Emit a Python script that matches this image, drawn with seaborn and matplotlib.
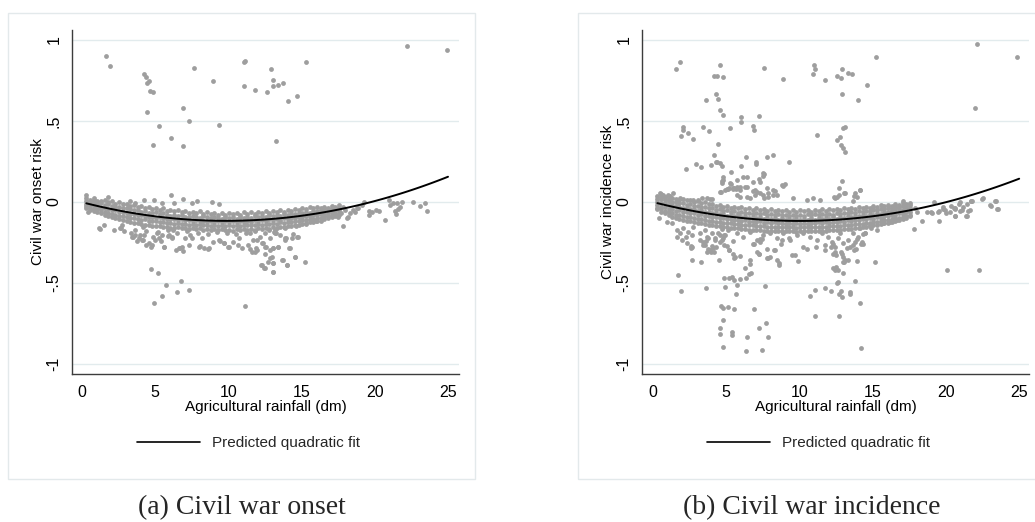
import numpy as np
import pandas as pd
import matplotlib
matplotlib.use("Agg")
import matplotlib.pyplot as plt
import seaborn as sns
from matplotlib.lines import Line2D
from matplotlib.patches import Rectangle

# ---------------- data ----------------
band_x = [0.30, 0.56, 0.80, 1.06, 1.30, 1.55, 1.81, 2.05, 2.29, 2.55,
          2.80, 3.06, 3.30, 3.54, 3.80, 4.05, 4.31, 4.55, 4.79, 5.05,
          5.30, 5.56, 5.80, 6.04, 6.30, 6.55, 6.81, 7.05, 7.29, 7.55,
          7.80, 8.06, 8.30, 8.54, 8.80, 9.05, 9.31, 9.55, 9.79, 10.05,
          10.30, 10.56, 10.80, 11.04, 11.30, 11.55, 11.81, 12.05, 12.29, 12.55,
          12.80, 13.06, 13.30, 13.54, 13.80, 14.05, 14.31, 14.55, 14.79, 15.05,
          15.30, 15.56, 15.80, 16.04, 16.30, 16.55, 16.81, 17.05, 17.29, 17.55]

# Panel (a): dense band rows
onset_band1 = [0.022, 0.015, 0.012, 0.008, 0.005, 0.010, 0.000, 0.005, -0.010, -0.002,
               -0.015, -0.010, -0.025, -0.018, -0.030, -0.025, -0.040, -0.030, -0.045, -0.035,
               -0.050, -0.040, -0.055, -0.048, -0.058, -0.050, -0.062, -0.055, -0.070, -0.060,
               -0.068, -0.058, -0.072, -0.062, -0.075, -0.065, -0.078, -0.068, -0.080, -0.070,
               -0.075, -0.066, -0.078, -0.064, -0.074, -0.062, -0.072, -0.060, -0.070, -0.058,
               -0.066, -0.055, -0.062, -0.050, -0.060, -0.048, -0.055, -0.042, -0.050, -0.038,
               -0.045, -0.032, -0.040, -0.030, -0.038, -0.030, -0.035, -0.022, -0.028, -0.018]
onset_band2 = [0.005, -0.002, 0.000, -0.010, -0.008, -0.018, -0.015, -0.025, -0.030, -0.028,
               -0.040, -0.035, -0.045, -0.052, -0.048, -0.060, -0.055, -0.065, -0.070, -0.062,
               -0.075, -0.068, -0.080, -0.085, -0.078, -0.088, -0.082, -0.090, -0.095, -0.085,
               -0.092, -0.098, -0.088, -0.095, -0.100, -0.090, -0.098, -0.102, -0.092, -0.100,
               -0.095, -0.103, -0.090, -0.098, -0.092, -0.100, -0.088, -0.095, -0.085, -0.092,
               -0.083, -0.088, -0.080, -0.085, -0.075, -0.080, -0.072, -0.076, -0.066, -0.070,
               -0.060, -0.065, -0.055, -0.058, -0.050, -0.052, -0.044, -0.046, -0.038, -0.035]
onset_band3 = [-0.012, -0.020, -0.025, -0.028, -0.035, -0.040, -0.045, -0.050, -0.052, -0.060,
               -0.062, -0.070, -0.072, -0.075, -0.080, -0.082, -0.088, -0.090, -0.092, -0.098,
               -0.095, -0.100, -0.105, -0.102, -0.108, -0.110, -0.106, -0.114, -0.110, -0.118,
               -0.114, -0.120, -0.115, -0.122, -0.117, -0.124, -0.119, -0.125, -0.120, -0.126,
               -0.118, -0.124, -0.117, -0.122, -0.115, -0.121, -0.114, -0.119, -0.112, -0.117,
               -0.108, -0.114, -0.105, -0.110, -0.100, -0.106, -0.097, -0.100, -0.090, -0.094,
               -0.084, -0.088, -0.078, -0.080, -0.072, -0.074, -0.066, -0.062, -0.058, -0.052]
onset_band4 = [-0.025, -0.035, -0.042, -0.045, -0.052, -0.060, -0.065, -0.072, -0.078, -0.085,
               -0.088, -0.095, -0.100, -0.098, -0.105, -0.110, -0.108, -0.115, -0.120, -0.118,
               -0.125, -0.122, -0.130, -0.128, -0.133, -0.130, -0.136, -0.134, -0.140, -0.135,
               -0.142, -0.138, -0.144, -0.140, -0.146, -0.142, -0.148, -0.143, -0.150, -0.144,
               -0.148, -0.142, -0.147, -0.140, -0.145, -0.139, -0.143, -0.137, -0.140, -0.134,
               -0.138, -0.130, -0.134, -0.126, -0.130, -0.122, -0.125, -0.116, -0.118, -0.110,
               -0.112, -0.104, -0.105, -0.096, -0.098, -0.088, -0.085, -0.078, -0.074, -0.066]
onset_band5 = [-0.038, -0.048, -0.055, -0.062, -0.070, -0.082, -0.088, -0.095, -0.100, -0.108,
               -0.112, -0.118, -0.125, -0.128, -0.132, -0.136, -0.140, -0.142, -0.146, -0.150,
               -0.148, -0.155, -0.152, -0.158, -0.160, -0.156, -0.162, -0.158, -0.165, -0.160,
               -0.168, -0.163, -0.170, -0.165, -0.172, -0.166, -0.174, -0.168, -0.175, -0.170,
               -0.176, -0.168, -0.174, -0.166, -0.172, -0.165, -0.170, -0.163, -0.168, -0.160,
               -0.165, -0.156, -0.160, -0.152, -0.155, -0.146, -0.150, -0.140, -0.142, -0.134,
               -0.135, -0.126, -0.125, -0.116, -0.115, -0.105, -0.100, -0.092, -0.088, -0.078]

# Panel (a): high outliers and points just above the band
onset_top_x = [1.64, 1.91, 4.23, 4.37, 4.60, 4.46, 4.64, 4.83, 4.46, 5.28,
               4.83, 6.06, 6.92, 7.29, 6.88, 7.65, 8.97, 9.34, 11.13, 11.06,
               11.04, 11.84, 12.66, 12.91, 13.02, 13.02, 13.39, 13.71, 14.09, 14.66,
               13.25, 15.30, 22.20, 24.95,
               0.27, 0.80, 1.75, 3.30, 4.21, 4.90, 6.08, 6.90, 7.86, 8.88,
               7.51, 6.26, 5.46, 3.64, 9.34]
onset_top_y = [0.903, 0.841, 0.790, 0.774, 0.747, 0.737, 0.687, 0.679, 0.557, 0.471,
               0.352, 0.397, 0.582, 0.500, 0.344, 0.827, 0.745, 0.477, 0.868, 0.862,
               0.716, 0.691, 0.679, 0.821, 0.753, 0.716, 0.720, 0.735, 0.625, 0.654,
               0.376, 0.864, 0.961, 0.936,
               0.041, 0.027, 0.031, 0.006, 0.012, 0.012, 0.041, 0.020, 0.006, -0.002,
               -0.008, -0.008, -0.008, -0.008, -0.010]

# Panel (a): points below the band
onset_low_x = [4.74, 5.19, 5.74, 6.74, 4.90, 5.46, 6.47, 7.33, 11.11,
               1.23, 0.43, 2.64, 3.34, 3.50, 3.73, 3.96, 4.19, 4.37, 4.55,
               4.71, 4.87, 5.10, 5.39, 5.62, 5.89, 6.12, 6.39, 6.69, 6.92,
               7.33, 7.49, 8.05, 8.33, 8.62, 8.96, 9.42, 9.69, 9.97, 10.33,
               10.69, 4.19, 6.23,
               11.47, 11.70, 11.92, 11.51, 11.81, 12.15, 12.38, 12.49, 12.60, 12.83,
               12.95, 13.06, 13.17, 13.40, 12.26, 12.49, 13.06, 13.06, 13.63, 13.97,
               14.15, 14.54, 14.70, 15.22, 13.86, 14.43, 13.52, 12.76, 11.35,
               1.14, 1.48, 2.62, 2.73, 3.42, 3.64, 3.87, 4.10, 4.21, 4.78,
               5.01, 5.28, 5.58, 5.46, 5.92, 6.15, 6.60, 6.83, 7.06, 7.40,
               7.97, 8.20, 8.65, 9.34, 9.68, 10.02, 10.70, 10.93, 11.61, 11.95,
               12.30, 12.41, 12.70, 12.82, 12.52, 12.30, 11.95, 12.82,
               14.78, 14.32, 13.93, 13.87, 13.41, 13.07, 14.21, 14.55, 13.75, 13.98,
               13.07, 13.07, 13.25, 13.12,
               2.20, 2.90, 3.60, 4.40, 5.20, 5.90, 6.50, 7.20, 7.90, 8.60,
               9.20, 9.90, 10.50, 11.20, 11.80, 12.50, 13.20, 13.90, 14.60, 15.30,
               16.00]
onset_low_y = [-0.414, -0.438, -0.514, -0.490, -0.626, -0.582, -0.553, -0.543, -0.640,
               -0.169, -0.060, -0.158, -0.193, -0.218, -0.239, -0.204, -0.235, -0.265, -0.255,
               -0.276, -0.218, -0.193, -0.239, -0.276, -0.210, -0.224, -0.296, -0.286, -0.300,
               -0.265, -0.220, -0.272, -0.284, -0.288, -0.249, -0.239, -0.255, -0.276, -0.245,
               -0.265, -0.152, -0.173,
               -0.193, -0.235, -0.286, -0.292, -0.307, -0.218, -0.255, -0.321, -0.276, -0.296,
               -0.337, -0.286, -0.193, -0.276, -0.389, -0.409, -0.374, -0.430, -0.358, -0.389,
               -0.286, -0.337, -0.214, -0.370, -0.224, -0.198, -0.204, -0.173, -0.265,
               -0.162, -0.142, -0.162, -0.142, -0.214, -0.204, -0.224, -0.235, -0.204, -0.265,
               -0.235, -0.224, -0.276, -0.204, -0.204, -0.214, -0.286, -0.276, -0.224, -0.204,
               -0.276, -0.224, -0.286, -0.235, -0.255, -0.276, -0.224, -0.286, -0.307, -0.296,
               -0.389, -0.409, -0.368, -0.348, -0.276, -0.255, -0.235, -0.224,
               -0.214, -0.224, -0.224, -0.235, -0.276, -0.286, -0.286, -0.337, -0.358, -0.389,
               -0.378, -0.434, -0.193, -0.183,
               -0.170, -0.180, -0.175, -0.180, -0.185, -0.170, -0.190, -0.180, -0.190, -0.200,
               -0.185, -0.190, -0.200, -0.190, -0.180, -0.190, -0.170, -0.160, -0.150, -0.130,
               -0.120]

# Panel (a): sparse points at high rainfall
onset_right_x = [19.28, 19.63, 19.80, 20.08, 20.31, 19.63, 20.70, 20.99, 21.04, 21.27,
                 21.50, 21.60, 21.84, 21.72, 21.45, 21.38, 22.58, 23.09, 23.43, 23.59,
                 18.87, 19.10, 18.31, 18.19, 17.85, 18.08, 17.50, 18.53, 18.76, 18.65,
                 17.80, 17.95, 17.70]
onset_right_y = [-0.002, -0.056, -0.064, -0.047, -0.056, -0.080, -0.111, 0.012, -0.019, -0.008,
                 -0.008, -0.043, -0.002, -0.029, -0.076, -0.056, -0.002, -0.023, -0.008, -0.056,
                 -0.039, -0.019, -0.070, -0.091, -0.146, -0.101, -0.091, -0.049, -0.035, -0.060,
                 -0.030, -0.050, -0.070]

# Panel (b): dense band rows
incid_band1 = [0.040, 0.030, 0.028, 0.020, 0.022, 0.020, 0.015, 0.020, 0.010, 0.012,
               0.000, 0.005, -0.008, 0.000, -0.015, -0.010, -0.022, -0.018, -0.030, -0.025,
               -0.035, -0.028, -0.040, -0.032, -0.045, -0.038, -0.048, -0.040, -0.050, -0.042,
               -0.055, -0.045, -0.056, -0.048, -0.058, -0.050, -0.060, -0.052, -0.060, -0.050,
               -0.058, -0.050, -0.060, -0.048, -0.058, -0.046, -0.055, -0.045, -0.052, -0.042,
               -0.050, -0.040, -0.045, -0.036, -0.042, -0.032, -0.040, -0.028, -0.035, -0.024,
               -0.030, -0.020, -0.026, -0.018, -0.022, -0.012, -0.020, -0.008, -0.012, -0.005]
incid_band2 = [0.020, 0.018, 0.010, 0.008, 0.000, 0.002, -0.008, -0.005, -0.018, -0.015,
               -0.025, -0.022, -0.032, -0.030, -0.040, -0.038, -0.048, -0.045, -0.055, -0.050,
               -0.060, -0.055, -0.066, -0.060, -0.070, -0.065, -0.074, -0.068, -0.076, -0.070,
               -0.080, -0.074, -0.082, -0.076, -0.083, -0.078, -0.084, -0.079, -0.085, -0.078,
               -0.084, -0.077, -0.083, -0.076, -0.082, -0.074, -0.080, -0.072, -0.078, -0.070,
               -0.075, -0.066, -0.070, -0.062, -0.066, -0.058, -0.062, -0.053, -0.056, -0.048,
               -0.050, -0.042, -0.045, -0.036, -0.038, -0.030, -0.032, -0.025, -0.024, -0.018]
incid_band3 = [0.002, -0.008, -0.006, -0.016, -0.018, -0.026, -0.028, -0.036, -0.038, -0.046,
               -0.045, -0.055, -0.052, -0.063, -0.060, -0.070, -0.067, -0.076, -0.073, -0.084,
               -0.079, -0.089, -0.083, -0.094, -0.087, -0.098, -0.092, -0.101, -0.095, -0.104,
               -0.097, -0.107, -0.099, -0.109, -0.101, -0.110, -0.102, -0.111, -0.102, -0.112,
               -0.102, -0.110, -0.101, -0.109, -0.100, -0.108, -0.098, -0.104, -0.095, -0.102,
               -0.092, -0.098, -0.088, -0.094, -0.084, -0.089, -0.079, -0.084, -0.073, -0.079,
               -0.067, -0.072, -0.060, -0.064, -0.053, -0.056, -0.045, -0.049, -0.038, -0.040]
incid_band4 = [-0.020, -0.030, -0.032, -0.042, -0.042, -0.053, -0.052, -0.063, -0.061, -0.071,
               -0.069, -0.079, -0.077, -0.087, -0.085, -0.093, -0.092, -0.101, -0.097, -0.107,
               -0.104, -0.113, -0.109, -0.117, -0.113, -0.121, -0.117, -0.125, -0.120, -0.128,
               -0.123, -0.130, -0.125, -0.132, -0.127, -0.133, -0.128, -0.134, -0.129, -0.134,
               -0.128, -0.133, -0.127, -0.132, -0.126, -0.131, -0.124, -0.128, -0.121, -0.126,
               -0.118, -0.122, -0.114, -0.120, -0.110, -0.113, -0.105, -0.108, -0.099, -0.102,
               -0.093, -0.096, -0.086, -0.089, -0.079, -0.081, -0.071, -0.073, -0.062, -0.064]
incid_band5 = [-0.035, -0.045, -0.056, -0.062, -0.068, -0.078, -0.080, -0.088, -0.092, -0.095,
               -0.100, -0.102, -0.108, -0.110, -0.115, -0.116, -0.122, -0.124, -0.128, -0.130,
               -0.132, -0.136, -0.136, -0.140, -0.142, -0.144, -0.145, -0.148, -0.148, -0.150,
               -0.152, -0.153, -0.152, -0.155, -0.156, -0.154, -0.157, -0.156, -0.158, -0.155,
               -0.157, -0.155, -0.156, -0.153, -0.155, -0.152, -0.153, -0.150, -0.150, -0.148,
               -0.147, -0.144, -0.143, -0.140, -0.138, -0.135, -0.134, -0.130, -0.128, -0.124,
               -0.121, -0.118, -0.114, -0.110, -0.106, -0.100, -0.098, -0.092, -0.088, -0.080]
incid_band6 = [-0.045, -0.060, -0.070, -0.080, -0.090, -0.100, -0.105, -0.110, -0.118, -0.120,
               -0.125, -0.128, -0.132, -0.135, -0.140, -0.142, -0.146, -0.150, -0.152, -0.155,
               -0.158, -0.160, -0.162, -0.165, -0.166, -0.170, -0.170, -0.173, -0.172, -0.176,
               -0.176, -0.178, -0.177, -0.180, -0.180, -0.181, -0.182, -0.180, -0.183, -0.180,
               -0.182, -0.180, -0.181, -0.178, -0.180, -0.177, -0.178, -0.175, -0.175, -0.172,
               -0.172, -0.168, -0.168, -0.164, -0.163, -0.158, -0.157, -0.152, -0.150, -0.145,
               -0.142, -0.138, -0.132, -0.128, -0.122, -0.115, -0.110, -0.102, -0.096, -0.088]

# Panel (b): high outliers
incid_top_x = [1.57, 1.87, 4.60, 4.19, 4.37, 4.76, 4.32, 4.44, 3.64, 4.60,
               4.78, 5.98, 5.98, 7.21, 6.85, 6.89, 5.23, 3.39, 3.80, 2.03,
               2.07, 1.93, 2.41, 2.75, 4.41, 7.58, 8.90, 10.99, 11.06, 10.94,
               11.76, 12.54, 12.83, 12.90, 13.31, 13.61, 12.92, 13.99, 14.58, 15.22,
               22.12, 22.00, 24.87, 11.22, 12.56, 12.79, 12.83, 12.95, 13.10, 12.99,
               13.10, 12.92]
incid_top_y = [0.821, 0.864, 0.844, 0.776, 0.776, 0.772, 0.667, 0.638, 0.630, 0.568,
               0.537, 0.527, 0.494, 0.533, 0.471, 0.442, 0.459, 0.463, 0.438, 0.465,
               0.444, 0.409, 0.428, 0.389, 0.356, 0.829, 0.757, 0.848, 0.819, 0.790,
               0.753, 0.778, 0.763, 0.823, 0.796, 0.790, 0.667, 0.630, 0.720, 0.897,
               0.973, 0.580, 0.897, 0.414, 0.381, 0.403, 0.354, 0.335, 0.311, 0.459,
               0.461, 0.130]

# Panel (b): points between the band and 0.3
incid_mid_x = [4.17, 4.30, 4.57, 4.73, 2.23, 2.94, 3.30, 3.98, 5.35, 5.98,
               6.33, 7.03, 7.05, 7.78, 8.21, 9.26, 7.53, 7.60, 8.78, 9.01,
               4.80, 4.73, 5.26, 5.67, 7.30, 6.39, 6.85, 7.08, 7.76, 7.87,
               8.35, 5.71, 4.67, 5.05, 5.51, 12.72, 13.06, 14.15, 13.70, 12.36,
               3.66, 3.91, 7.49, 7.26, 6.85, 6.12, 6.30, 5.30, 5.21, 5.48,
               5.94, 4.80, 4.71, 4.39, 8.90, 8.21, 7.87, 7.58, 7.30, 6.96,
               6.39, 6.44, 6.62, 5.94, 5.71, 12.54, 12.67, 0.52, 0.82, 1.16,
               1.84, 4.57, 4.91, 5.14, 5.48, 5.94, 5.71, 6.96, 7.53, 8.21,
               8.44, 3.09, 3.32, 4.00, 0.70, 0.48, 12.42, 9.58, 10.49, 10.94,
               11.40, 14.13, 13.79, 13.11, 13.90, 13.63, 1.05, 1.39, 2.75]
incid_mid_y = [0.288, 0.249, 0.243, 0.220, 0.204, 0.235, 0.218, 0.228, 0.187, 0.224,
               0.278, 0.245, 0.237, 0.278, 0.288, 0.249, 0.177, 0.171, 0.107, 0.109,
               0.134, 0.117, 0.115, 0.078, 0.126, 0.156, 0.070, 0.064, 0.084, 0.029,
               0.066, 0.136, 0.064, 0.078, 0.086, 0.084, 0.053, 0.072, 0.037, 0.029,
               0.027, 0.016, 0.160, 0.140, 0.125, 0.156, 0.095, 0.111, 0.085, 0.078,
               0.091, 0.156, 0.132, 0.249, 0.099, 0.074, 0.053, 0.027, 0.053, 0.074,
               0.033, 0.095, 0.023, 0.033, 0.043, 0.033, 0.043, 0.049, 0.033, 0.039,
               0.027, 0.064, 0.074, 0.080, 0.084, 0.074, 0.095, 0.043, 0.043, 0.043,
               0.043, 0.012, 0.022, 0.018, 0.043, 0.053, 0.022, 0.022, 0.012, 0.022,
               0.012, 0.074, 0.053, 0.053, 0.033, 0.006, 0.043, 0.053, 0.012]

# Panel (b): points below the band
incid_low_x = [1.68, 1.91, 2.66, 2.62, 2.59, 3.28, 3.60, 3.39, 3.60, 3.75,
               3.96, 4.30, 4.19, 4.48, 4.57, 4.71, 4.55, 4.87, 4.85, 5.17,
               5.48, 5.57, 4.82, 5.21, 5.41, 4.91, 5.71, 5.67, 5.53, 5.94,
               6.35, 6.53, 6.69, 6.28, 6.60, 5.55, 4.64, 4.78, 5.10, 5.55,
               6.89, 4.60, 4.60, 4.76, 5.39, 5.39, 4.76, 6.39, 6.35, 7.26,
               7.71, 7.85, 7.42, 7.67, 7.21, 7.76, 7.99, 8.58, 6.89, 7.33,
               7.44, 7.85, 8.26, 8.76, 8.78, 9.31, 9.47, 9.72, 9.90, 10.22,
               10.49, 10.72, 11.08, 11.04, 11.76, 12.15, 12.26, 12.40, 12.58, 12.83,
               12.72, 12.88, 12.72, 12.97, 12.99, 12.81, 12.95, 13.13, 13.47, 13.47,
               13.77, 14.15, 14.20, 13.31, 12.26, 15.15, 13.84, 13.95, 14.20, 14.36,
               20.05, 22.28,
               2.64, 3.66, 3.89, 4.12, 3.44, 3.78, 4.23, 3.55, 4.00, 4.80,
               5.07, 5.21, 5.48, 5.94, 6.62, 7.08, 7.24, 7.76, 8.33, 6.85,
               7.31, 8.62, 8.44, 12.50, 12.60, 12.40, 12.50, 11.72, 12.18, 12.30,
               11.15, 13.04, 13.90, 12.88, 13.72, 14.31, 14.13, 13.79, 13.45, 13.22,
               14.88, 14.47, 12.63,
               1.62, 1.84, 2.07, 2.25, 2.41, 2.64, 2.75, 1.96, 2.30, 1.62,
               1.27, 0.93, 0.39, 3.21, 3.55, 3.71, 4.00, 4.23, 4.46, 4.69,
               4.92, 5.14, 3.21, 5.71, 6.17, 6.62, 7.08, 7.53, 7.99, 8.44,
               8.90, 9.35, 9.81, 10.26, 10.72, 11.17, 11.51, 11.74, 11.97, 12.20,
               12.42, 12.65, 12.99, 13.33, 13.68, 14.02, 14.25, 14.47, 13.68, 12.76,
               14.81, 15.27, 15.72, 16.18, 16.63]
incid_low_y = [-0.453, -0.547, -0.356, -0.286, -0.270, -0.370, -0.529, -0.265, -0.241, -0.292,
               -0.311, -0.280, -0.311, -0.360, -0.204, -0.169, -0.249, -0.206, -0.265, -0.298,
               -0.239, -0.342, -0.469, -0.467, -0.465, -0.527, -0.512, -0.570, -0.481, -0.475,
               -0.467, -0.447, -0.436, -0.409, -0.358, -0.344, -0.642, -0.656, -0.650, -0.663,
               -0.658, -0.780, -0.817, -0.730, -0.800, -0.821, -0.893, -0.831, -0.918, -0.778,
               -0.749, -0.835, -0.912, -0.519, -0.321, -0.344, -0.340, -0.387, -0.259, -0.249,
               -0.230, -0.348, -0.296, -0.259, -0.232, -0.222, -0.329, -0.329, -0.362, -0.280,
               -0.292, -0.580, -0.545, -0.702, -0.531, -0.547, -0.405, -0.422, -0.498, -0.549,
               -0.570, -0.584, -0.704, -0.440, -0.372, -0.311, -0.337, -0.358, -0.553, -0.568,
               -0.488, -0.621, -0.899, -0.360, -0.319, -0.370, -0.288, -0.228, -0.257, -0.261,
               -0.420, -0.420,
               -0.276, -0.307, -0.296, -0.286, -0.245, -0.225, -0.235, -0.266, -0.270, -0.225,
               -0.270, -0.296, -0.323, -0.331, -0.382, -0.308, -0.323, -0.288, -0.298, -0.257,
               -0.226, -0.378, -0.358, -0.399, -0.419, -0.307, -0.327, -0.296, -0.276, -0.257,
               -0.276, -0.368, -0.364, -0.323, -0.296, -0.200, -0.162, -0.245, -0.276, -0.286,
               -0.158, -0.193, -0.492,
               -0.173, -0.193, -0.163, -0.214, -0.183, -0.204, -0.152, -0.235, -0.255, -0.214,
               -0.132, -0.121, -0.101, -0.193, -0.173, -0.214, -0.193, -0.224, -0.193, -0.235,
               -0.204, -0.173, -0.235, -0.193, -0.214, -0.183, -0.235, -0.204, -0.193, -0.224,
               -0.193, -0.235, -0.204, -0.193, -0.214, -0.235, -0.193, -0.265, -0.214, -0.245,
               -0.276, -0.224, -0.255, -0.235, -0.265, -0.214, -0.245, -0.193, -0.193, -0.193,
               -0.142, -0.173, -0.132, -0.121, -0.111]

# Panel (b): sparse points at high rainfall
incid_right_x = [17.79, 18.34, 19.54, 21.41, 20.64, 20.27, 21.52, 21.77, 22.46, 23.05,
                 23.39, 23.53, 19.20, 18.73, 18.98, 19.50, 19.77, 19.93, 20.34, 20.59,
                 20.91, 21.18, 21.71, 21.09, 20.52, 17.09, 15.61, 15.04, 16.29, 16.52,
                 19.02, 19.48, 19.82, 20.00, 20.61, 20.61, 20.96, 20.96, 21.41, 21.37,
                 21.64, 21.69, 22.50, 23.00, 23.34, 23.46, 18.00, 17.90]
incid_right_y = [-0.169, -0.119, -0.119, -0.086, -0.086, -0.062, -0.056, 0.004, 0.021, -0.023,
                 0.004, -0.041, 0.000, -0.064, -0.062, -0.053, -0.033, -0.051, -0.023, -0.037,
                 -0.012, -0.029, 0.006, -0.049, -0.039, 0.006, -0.023, -0.043, -0.049, -0.039,
                 -0.070, -0.060, -0.043, -0.070, -0.043, -0.085, -0.056, -0.002, -0.014, -0.085,
                 -0.049, 0.006, 0.023, -0.019, 0.006, -0.043, -0.060, -0.040]

# Predicted quadratic fit
fit_x = [0.3, 2, 4, 6, 8, 10, 12, 14, 16, 18, 20, 22, 24, 25]
onset_fit = [-0.008, -0.043, -0.076, -0.099, -0.112, -0.116, -0.111, -0.096, -0.071,
             -0.038, 0.006, 0.059, 0.121, 0.156]
incid_fit = [-0.007, -0.042, -0.075, -0.098, -0.112, -0.117, -0.112, -0.099, -0.075,
             -0.043, -0.001, 0.050, 0.110, 0.144]

y_ticks = [-1, -0.5, 0, 0.5, 1]
y_tick_labels = ["-1", "-.5", "0", ".5", "1"]
x_ticks = [0, 5, 10, 15, 20, 25]
x_label = "Agricultural rainfall (dm)"
y_labels = ["Civil war onset risk", "Civil war incidence risk"]
captions = ["(a) Civil war onset", "(b) Civil war incidence"]
legend_label = "Predicted quadratic fit"


def frame(parts):
    xs, ys = [], []
    for px, py in parts:
        assert len(px) == len(py), (len(px), len(py))
        xs += list(px)
        ys += list(py)
    return pd.DataFrame({"rain": xs, "risk": ys})


onset_df = frame([(band_x, onset_band1), (band_x, onset_band2), (band_x, onset_band3),
                  (band_x, onset_band4), (band_x, onset_band5),
                  (onset_top_x, onset_top_y), (onset_low_x, onset_low_y),
                  (onset_right_x, onset_right_y)])
incid_df = frame([(band_x, incid_band1), (band_x, incid_band2), (band_x, incid_band3),
                  (band_x, incid_band4), (band_x, incid_band5), (band_x, incid_band6),
                  (incid_top_x, incid_top_y), (incid_mid_x, incid_mid_y),
                  (incid_low_x, incid_low_y), (incid_right_x, incid_right_y)])

# ---------------- drawing ----------------
sns.set_theme(style="white")
plt.rcParams['font.family'] = ['Liberation Sans', 'DejaVu Sans']

W, H = 1035, 522
fig = plt.figure(figsize=(W / 100, H / 100), dpi=100)
fig.patch.set_facecolor("white")

grey = "#9e9e9e"
grid_c = "#e2ebed"
spine_c = "#3c3c3c"

panels = [
    dict(df=onset_df, fit=onset_fit, left=72, xlim=(-0.68, 25.75), ylab=y_labels[0],
         frame=(8, 13, 475, 479), leg=(137, 443), cap=(242, 508), caption=captions[0]),
    dict(df=incid_df, fit=incid_fit, left=642, xlim=(-0.75, 25.67), ylab=y_labels[1],
         frame=(578, 13, 1045, 479), leg=(707, 443), cap=(812, 508), caption=captions[1]),
]

for p in panels:
    fl, ft, fr, fb = p["frame"]
    fig.patches.append(Rectangle((fl / W, 1 - fb / H), (fr - fl) / W, (fb - ft) / H,
                                 transform=fig.transFigure, fill=False,
                                 ec="#e3e9eb", lw=1.0, zorder=0))
    ax = fig.add_axes([p["left"] / W, 1 - 374 / H, 387 / W, 344 / H])
    ax.set_facecolor("white")
    for v in y_ticks:
        ax.axhline(v, color=grid_c, lw=1.0, zorder=0)
    sns.scatterplot(data=p["df"], x="rain", y="risk", ax=ax, s=12, color=grey,
                    linewidth=0, legend=False, zorder=2)
    sns.regplot(x=np.array(fit_x, dtype=float), y=np.array(p["fit"], dtype=float),
                order=2, scatter=False, ci=None, truncate=True, color="black",
                line_kws={"lw": 1.4, "zorder": 3}, ax=ax)
    ax.set_xlim(*p["xlim"])
    ax.set_ylim(-1.062, 1.062)
    ax.set_xticks(x_ticks)
    ax.set_xticklabels([str(t) for t in x_ticks], fontsize=11.5)
    ax.set_yticks(y_ticks)
    ax.set_yticklabels(y_tick_labels, fontsize=11.5, rotation=90, va="center")
    ax.tick_params(axis="both", direction="out", length=5, width=1, color=spine_c,
                   labelcolor="black", pad=3)
    ax.tick_params(axis="y", pad=2.5)
    for side in ["top", "right"]:
        ax.spines[side].set_visible(False)
    for side in ["left", "bottom"]:
        ax.spines[side].set_color(spine_c)
        ax.spines[side].set_linewidth(1.0)
    ax.grid(False)
    ax.set_xlabel(x_label, fontsize=11, color="black")
    ax.set_ylabel(p["ylab"], fontsize=11, color="black")
    ax.xaxis.set_label_coords(0.5, -0.076)
    ax.yaxis.set_label_coords(-0.07, 0.5)

    lx, ly = p["leg"]
    fig.legend(handles=[Line2D([], [], color="black", lw=1.2)], labels=[legend_label],
               loc="center left", bbox_to_anchor=(lx / W, 1 - ly / H), frameon=False,
               borderpad=0, borderaxespad=0, handlelength=4.1, handletextpad=0.8,
               fontsize=11)
    cx, cy = p["cap"]
    fig.text(cx / W, 1 - cy / H, p["caption"], ha="center", va="center",
             fontsize=20, family=["Liberation Serif", "DejaVu Serif"])

fig.savefig("out.png", dpi=100, facecolor="white")
